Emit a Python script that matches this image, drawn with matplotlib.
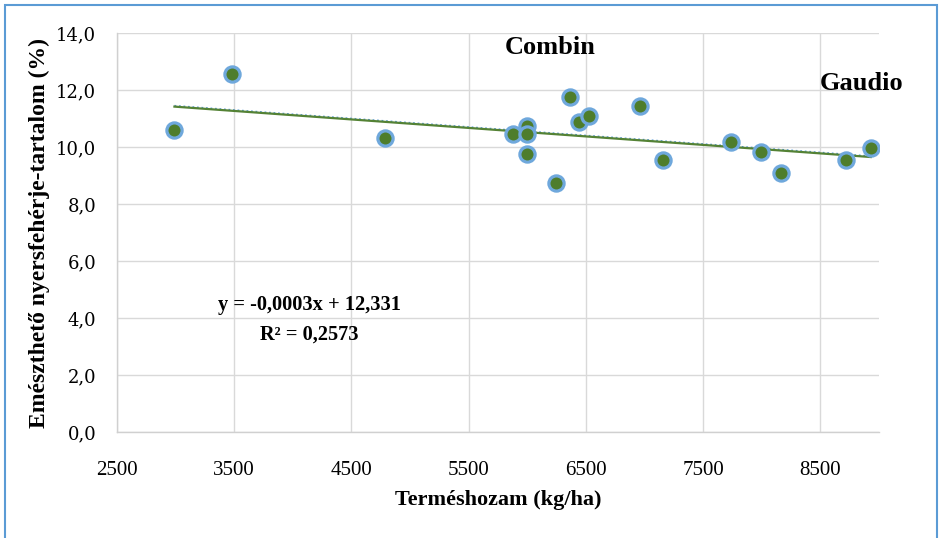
import numpy as np
import matplotlib.pyplot as plt
from matplotlib.patches import Rectangle

# Terméshozam (kg/ha) es emészthető nyersfehérje-tartalom (%)
yield_kg_ha = [2990, 3480, 4790, 5875, 5995, 5995, 5995, 6245, 6365, 6445,
               6530, 6965, 7155, 7735, 7995, 8160, 8715, 8930]
protein_pct = [10.59, 12.55, 10.30, 10.44, 10.73, 10.46, 9.75, 8.72, 11.76, 10.89,
               11.10, 11.43, 9.56, 10.17, 9.81, 9.09, 9.56, 9.97]

x_ticks = [2500, 3500, 4500, 5500, 6500, 7500, 8500]
y_ticks = [0, 2, 4, 6, 8, 10, 12, 14]

equation_text = "y = -0,0003x + 12,331"
r2_text = "R² = 0,2573"

serif = ["Liberation Serif", "DejaVu Serif"]

fig = plt.figure(figsize=(9.41, 5.38), dpi=100)
ax = fig.add_axes([117 / 941, 1 - 432 / 538, 762 / 941, 399 / 538])

# trend line (linear fit)
slope, intercept = np.polyfit(yield_kg_ha, protein_pct, 1)
xs = np.array([min(yield_kg_ha), max(yield_kg_ha)])
ax.plot(xs, slope * xs + intercept + 0.03, color="#5b9bd5", lw=1.3,
        linestyle=(0, (1, 1.5)), zorder=3)
ax.plot(xs, slope * xs + intercept, color="#548235", lw=1.6, zorder=4)

ax.scatter(yield_kg_ha, protein_pct, s=120, facecolor="#4e7d2b",
           edgecolor="#6fa8dc", linewidth=2.3, zorder=5)

ax.set_xlim(2500, 9000)
ax.set_ylim(0, 14)
ax.set_xticks(x_ticks)
ax.set_yticks(y_ticks)
ax.set_yticklabels([f"{v:.1f}".replace(".", ",") for v in y_ticks],
                   family=["DejaVu Serif"], fontsize=13)
ax.set_xticklabels([str(v) for v in x_ticks], family=serif, fontsize=15)
ax.tick_params(length=0)
ax.tick_params(axis="y", pad=15)
ax.tick_params(axis="x", pad=21)

ax.grid(True, color="#d9d9d9", lw=1)
ax.set_axisbelow(True)
for side in ["top", "right"]:
    ax.spines[side].set_visible(False)
for side in ["left", "bottom"]:
    ax.spines[side].set_color("#d0d0d0")
    ax.spines[side].set_linewidth(1)

ax.set_xlabel("Terméshozam (kg/ha)", family=serif, fontweight="bold",
              fontsize=16, labelpad=7)
ax.set_ylabel("Emészthető nyersfehérje-tartalom (%)", family=serif,
              fontweight="bold", fontsize=17, labelpad=4)

ax.text(5811, 13.5, "Combin", family=serif, fontweight="bold", fontsize=19,
        va="center", ha="left")
ax.text(8498, 12.24, "Gaudio", family=serif, fontweight="bold", fontsize=19,
        va="center", ha="left", clip_on=False)
ax.text(4140, 4.45, equation_text, family=serif, fontweight="bold",
        fontsize=14.7, ha="center", va="center")
ax.text(4140, 3.43, r2_text, family=serif, fontweight="bold",
        fontsize=14.7, ha="center", va="center")

# blue frame around the chart
fig.patches.append(Rectangle((5 / 941, -0.05), 932 / 941, 1.05 - 5 / 538,
                             transform=fig.transFigure, fill=False,
                             edgecolor="#5b9bd5", lw=1.5))

fig.savefig("out.png", dpi=100)
